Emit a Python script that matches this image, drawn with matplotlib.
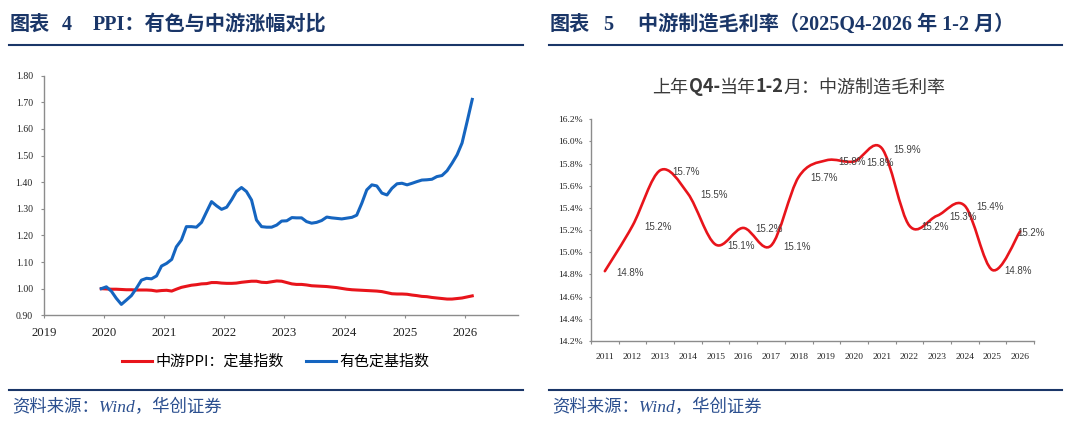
import numpy as np
import pandas as pd
import matplotlib
matplotlib.use("Agg")
import matplotlib.pyplot as plt
import matplotlib.dates as mdates
from matplotlib.path import Path
from matplotlib.patches import PathPatch
from matplotlib.lines import Line2D
from matplotlib.offsetbox import TextArea, HPacker, AnchoredOffsetbox
from matplotlib.ticker import FuncFormatter, FixedLocator
import datetime as dt

plt.rcParams['font.family'] = ['Noto Sans CJK SC', 'DejaVu Sans']

# ---- 图表4 数据：月度定基指数（2019-12 = 1）----
months = pd.date_range("2019-12-01", periods=75, freq="MS") + pd.Timedelta(days=14)
ppi_mid = [1.000, 0.999, 0.998, 0.998, 0.997, 0.996, 0.996, 0.995, 0.995, 0.995,
           0.994, 0.991, 0.993, 0.994, 0.991, 0.998, 1.005, 1.009, 1.013, 1.015,
           1.018, 1.019, 1.023, 1.023, 1.021, 1.020, 1.020, 1.021, 1.024, 1.026,
           1.028, 1.028, 1.024, 1.023, 1.026, 1.029, 1.028, 1.023, 1.018, 1.016,
           1.016, 1.014, 1.011, 1.010, 1.009, 1.008, 1.006, 1.004, 1.001, 0.998,
           0.996, 0.995, 0.994, 0.993, 0.992, 0.991, 0.989, 0.985, 0.981, 0.980,
           0.980, 0.979, 0.976, 0.974, 0.971, 0.970, 0.967, 0.965, 0.963, 0.961,
           0.961, 0.963, 0.965, 0.969, 0.973]
nonferrous = [1.000, 1.007, 0.990, 0.964, 0.941, 0.957, 0.974, 1.001, 1.032, 1.039,
              1.037, 1.048, 1.085, 1.095, 1.110, 1.157, 1.183, 1.233, 1.233, 1.231,
              1.249, 1.289, 1.327, 1.311, 1.298, 1.306, 1.335, 1.365, 1.380, 1.365,
              1.333, 1.258, 1.233, 1.231, 1.231, 1.239, 1.254, 1.255, 1.267, 1.266,
              1.266, 1.252, 1.246, 1.249, 1.256, 1.269, 1.266, 1.264, 1.262, 1.265,
              1.268, 1.276, 1.321, 1.371, 1.390, 1.386, 1.359, 1.352, 1.377, 1.394,
              1.396, 1.390, 1.396, 1.402, 1.408, 1.409, 1.411, 1.421, 1.425, 1.443,
              1.471, 1.503, 1.547, 1.628, 1.711]
legend_names = ["中游PPI：定基指数", "有色定基指数"]

# ---- 图表5 数据：上年Q4-当年1-2月 中游制造毛利率(%) ----
years = ["2011", "2012", "2013", "2014", "2015", "2016", "2017", "2018",
         "2019", "2020", "2021", "2022", "2023", "2024", "2025", "2026"]
margin = [14.83, 15.24, 15.74, 15.53, 15.07, 15.22, 15.06, 15.68,
          15.83, 15.82, 15.94, 15.24, 15.33, 15.42, 14.84, 15.19]

W, H = 1080, 428
navy = '#1A3668'
src_blue = '#2B4F8F'
axis_gray = '#8C8C8C'
serif = ['Liberation Serif', 'Noto Sans CJK SC']


def fx(px):
    return px / W


def fy(py):
    return 1 - py / H


def smooth_path(x, y):
    # Excel 风格平滑线（Catmull-Rom 转贝塞尔）
    n = len(x)
    verts = [(x[0], y[0])]
    codes = [Path.MOVETO]
    for i in range(n - 1):
        a = i - 1 if i > 0 else i
        b = i + 2 if i + 2 < n else i + 1
        c1 = (x[i] + (x[i + 1] - x[a]) / 6, y[i] + (y[i + 1] - y[a]) / 6)
        c2 = (x[i + 1] - (x[b] - x[i]) / 6, y[i + 1] - (y[b] - y[i]) / 6)
        verts += [c1, c2, (x[i + 1], y[i + 1])]
        codes += [Path.CURVE4] * 3
    return Path(verts, codes)


def style_axes(ax):
    for s in ['top', 'right']:
        ax.spines[s].set_visible(False)
    for s in ['left', 'bottom']:
        ax.spines[s].set_color(axis_gray)
        ax.spines[s].set_linewidth(1.0)
    ax.tick_params(colors=axis_gray, labelcolor='#222222', direction='out', width=0.8)


fig = plt.figure(figsize=(W / 100, H / 100), dpi=100)

# ---------------- 左图 ----------------
ax1 = fig.add_axes([fx(44), fy(315.3), fx(518 - 44), (315.3 - 75.7) / H])
style_axes(ax1)
ax1.plot(months, ppi_mid, color='#E8141B', lw=2.2, solid_joinstyle='round', label=legend_names[0])
ax1.plot(months, nonferrous, color='#1565C0', lw=2.2, solid_joinstyle='round', label=legend_names[1])
ax1.set_ylim(0.90, 1.80)
ax1.set_yticks(np.arange(0.90, 1.801, 0.10))
ax1.yaxis.set_major_formatter(FuncFormatter(lambda v, p: f"{v:.2f}"))
ax1.set_xlim(dt.datetime(2019, 1, 1), dt.datetime(2026, 11, 20))
ax1.xaxis.set_major_locator(mdates.YearLocator())
ax1.xaxis.set_major_formatter(mdates.DateFormatter('%Y'))
ax1.tick_params(axis='y', length=2.2, pad=5.8, labelsize=7)
ax1.tick_params(axis='x', length=2.5, pad=6, labelsize=9.2)
for t in ax1.get_xticklabels() + ax1.get_yticklabels():
    t.set_fontfamily(serif)

fig.legend(loc='center', bbox_to_anchor=(fx(275.5), fy(362)), ncol=2, frameon=False,
           fontsize=10.8, handlelength=2.0, handletextpad=0.2, columnspacing=1.5,
           borderaxespad=0, borderpad=0)

# ---------------- 右图 ----------------
ax2 = fig.add_axes([fx(591), fy(341), fx(1034 - 591), (341 - 119.3) / H])
style_axes(ax2)
xs = np.arange(len(years))
ax2.add_patch(PathPatch(smooth_path(xs, margin), facecolor='none', edgecolor='#E8141B',
                        lw=1.9, capstyle='round'))
ax2.set_xlim(-0.5, len(years) - 0.5)
ax2.set_ylim(14.2, 16.2)
ax2.set_yticks(np.arange(14.2, 16.201, 0.2))
ax2.yaxis.set_major_formatter(FuncFormatter(lambda v, p: f"{v:.1f}%"))
ax2.xaxis.set_major_locator(FixedLocator(xs))
ax2.set_xticklabels(years)
ax2.xaxis.set_minor_locator(FixedLocator(np.arange(-0.5, len(years), 1.0)))
ax2.tick_params(axis='x', which='major', length=0, pad=8.3, labelsize=6.8)
ax2.tick_params(axis='x', which='minor', length=2.2, color=axis_gray, width=0.8)
ax2.tick_params(axis='y', length=1.6, pad=4.3, labelsize=6.8)
for t in ax2.get_xticklabels() + ax2.get_yticklabels():
    t.set_fontfamily(serif)

for i, v in enumerate(margin):
    dx = 8.6 if i < len(margin) - 1 else -1.8
    ax2.annotate(f"{v:.1f}%", (xs[i], v), xytext=(dx, -1), textcoords='offset points',
                 ha='left', va='center', fontsize=7, color='#404040',
                 fontfamily=['Liberation Sans', 'DejaVu Sans'])

# 图内标题，Q4- 与 1-2 为粗体
parts = [("上年", 'normal'), ("Q4-", 'bold'), ("当年", 'normal'), ("1-2", 'bold'),
         ("月：中游制造毛利率", 'normal')]
boxes = [TextArea(s, textprops=dict(fontsize=13, color='#3A3A3A', fontweight=w,
                                    fontfamily=['Noto Sans CJK SC'])) for s, w in parts]
pack = HPacker(children=boxes, align='baseline', pad=0, sep=0)
fig.add_artist(AnchoredOffsetbox(loc='center', child=pack, frameon=False, pad=0, borderpad=0,
                                 bbox_to_anchor=(fx(799), fy(87)), bbox_transform=fig.transFigure))

# ---------------- 标题、分隔线、资料来源 ----------------
tkw = dict(fontsize=14.5, fontweight='bold', color=navy, fontfamily=serif, va='baseline')
fig.text(fx(10), fy(30), "图表", **tkw)
fig.text(fx(62), fy(30), "4", **tkw)
fig.text(fx(93), fy(30), "PPI：有色与中游涨幅对比", **tkw)
fig.text(fx(550), fy(30), "图表", **tkw)
fig.text(fx(603), fy(30), "5", **tkw)
fig.text(fx(638), fy(30), "中游制造毛利率（2025Q4-2026 年 1-2 月）", **tkw)

for x0, x1 in [(8.6, 522.5), (548.6, 1062)]:
    fig.add_artist(Line2D([fx(x0), fx(x1)], [fy(45), fy(45)], color=navy, lw=1.5))
    fig.add_artist(Line2D([fx(x0), fx(x1)], [fy(390), fy(390)], color=navy, lw=1.5))

skw = dict(fontsize=12.5, style='italic', color=src_blue, fontfamily=serif, va='center')
fig.text(fx(12), fy(408), "资料来源：Wind，华创证券", **skw)
fig.text(fx(552), fy(408), "资料来源：Wind，华创证券", **skw)

fig.savefig("out.png", dpi=100)
